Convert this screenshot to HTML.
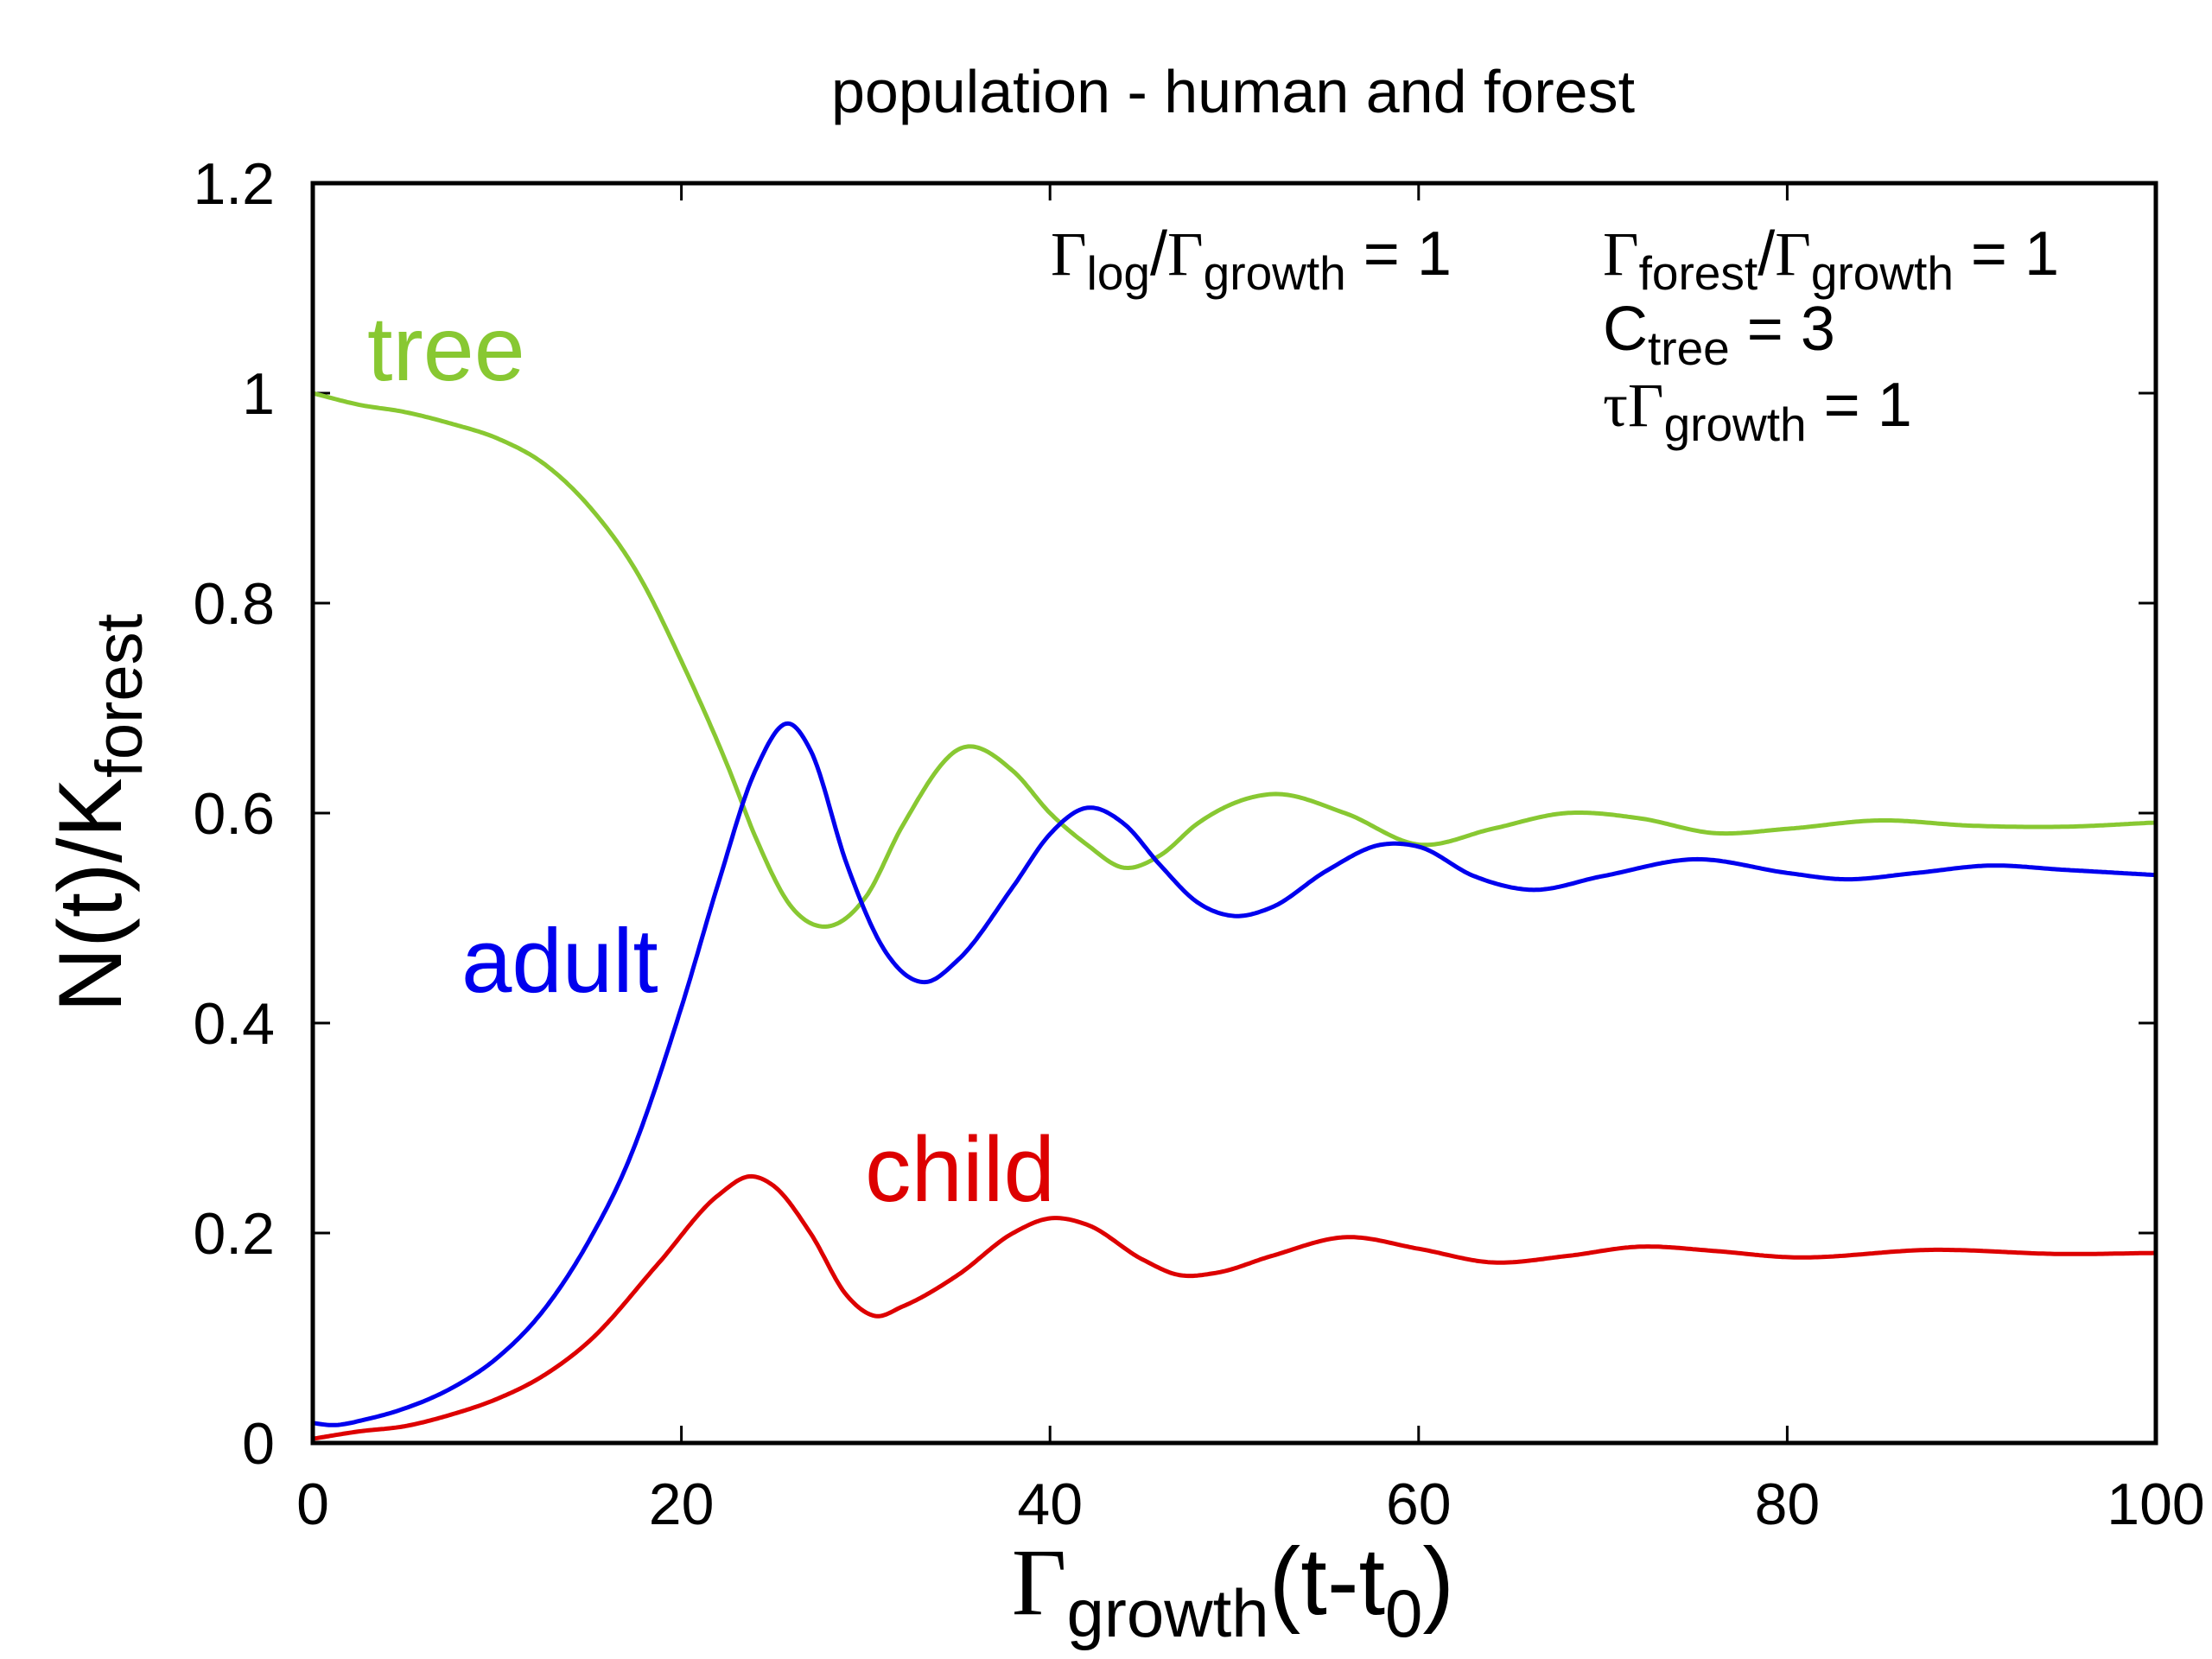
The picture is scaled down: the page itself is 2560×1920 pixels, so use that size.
<!DOCTYPE html>
<html><head><meta charset="utf-8"><style>
body{margin:0;background:#fff}
svg{display:block;font-family:"Liberation Sans",Arial,sans-serif}
</style></head><body>
<svg id="chart" width="2560" height="1920" viewBox="0 0 2560 1920" xmlns="http://www.w3.org/2000/svg">
<rect width="2560" height="1920" fill="#fff"/>
<text x="1427" y="130" font-size="70" text-anchor="middle">population - human and forest</text>
<g id="ticks"></g>
<g id="series"></g>
<rect x="362" y="212" width="2133" height="1458" fill="none" stroke="#000" stroke-width="5"/>
<text transform="translate(140,941) rotate(-90)" font-size="104" text-anchor="middle">N(t)/K<tspan font-size="76" dy="24">forest</tspan></text>
<text x="1427" y="1868" font-size="110" text-anchor="middle"><tspan font-family="Liberation Serif">Γ</tspan><tspan font-size="78" dy="26">growth</tspan><tspan dy="-26">(t-t</tspan><tspan font-size="78" dy="26">0</tspan><tspan dy="-26">)</tspan></text>
<text x="1216" y="318" font-size="72"><tspan font-family="Liberation Serif">Γ</tspan><tspan font-size="55" dy="17">log</tspan><tspan dy="-17">/</tspan><tspan font-family="Liberation Serif">Γ</tspan><tspan font-size="55" dy="17">growth</tspan><tspan dy="-17"> = 1</tspan></text>
<text x="1855" y="318" font-size="72"><tspan font-family="Liberation Serif">Γ</tspan><tspan font-size="55" dy="17">forest</tspan><tspan dy="-17">/</tspan><tspan font-family="Liberation Serif">Γ</tspan><tspan font-size="55" dy="17">growth</tspan><tspan dy="-17"> = 1</tspan></text>
<text x="1855" y="405" font-size="72">C<tspan font-size="55" dy="17">tree</tspan><tspan dy="-17"> = 3</tspan></text>
<text x="1855" y="493" font-size="72"><tspan font-family="Liberation Serif">τΓ</tspan><tspan font-size="55" dy="17">growth</tspan><tspan dy="-17"> = 1</tspan></text>
<text x="425" y="440" font-size="106" fill="#88c832">tree</text>
<text x="534" y="1148" font-size="105" fill="#0000ee">adult</text>
<text x="1001" y="1390" font-size="107" fill="#dd0000">child</text>
</svg>
<script>
const xTicks=[0,20,40,60,80,100];
const yTicks=[0,0.2,0.4,0.6,0.8,1,1.2];
const yTickLabels=["0","0.2","0.4","0.6","0.8","1","1.2"];
const treeT=[0,2.5,5,7.5,10,12.6,15.1,17.6,20.1,22.6,24,26,27.6,30,32,35.2,38,40,42,44,46,48,52,56,60,64,68,72,76,80,85,90,95,100];
const treeV=[1.0,0.989,0.982,0.971,0.957,0.932,0.89,0.829,0.741,0.641,0.578,0.51,0.492,0.52,0.588,0.662,0.64,0.6,0.57,0.548,0.56,0.59,0.618,0.6,0.57,0.585,0.6,0.595,0.581,0.585,0.593,0.588,0.587,0.591];
const adultT=[0,1,3,5,7.5,10,12.5,15,17,20,22,24,25.9,27,29,31,33.2,35,38,40,42,44,46,48,50,52,55,58,60,63,66,70,75,80,83,87,91,95,100];
const adultV=[0.019,0.017,0.023,0.033,0.052,0.081,0.126,0.193,0.263,0.415,0.533,0.64,0.685,0.66,0.55,0.47,0.439,0.46,0.53,0.58,0.605,0.59,0.55,0.515,0.502,0.51,0.545,0.57,0.568,0.54,0.527,0.54,0.556,0.543,0.537,0.543,0.55,0.546,0.541];
const childT=[0,2.5,5,7.5,10,12.5,15,18.75,22,23.8,25,27,29,30.5,32,35,38,40,42,45,47,49,52,56,60,64,68,72,76,80,88,95,100];
const childV=[0.004,0.011,0.016,0.027,0.042,0.064,0.097,0.171,0.236,0.254,0.245,0.2,0.14,0.121,0.13,0.16,0.2,0.214,0.208,0.175,0.16,0.162,0.178,0.196,0.185,0.172,0.178,0.187,0.183,0.177,0.184,0.18,0.181];
const NS="http://www.w3.org/2000/svg";
const X0=362,X1=2495,Y0=1670,Y1=212;
function xs(t){return X0+(X1-X0)*t/100;}
function ys(v){return Y0-(Y0-Y1)*v/1.2;}
const tg=document.getElementById('ticks');
function mk(tag,attrs,parent){const e=document.createElementNS(NS,tag);for(const k in attrs)e.setAttribute(k,attrs[k]);parent.appendChild(e);return e;}
xTicks.forEach(t=>{
  const x=xs(t);
  const l1=mk('line',{x1:x,x2:x,y1:Y0,y2:Y0-20,stroke:'#000','stroke-width':3},tg);
  
  
  const l2=mk('line',{x1:x,x2:x,y1:Y1,y2:Y1+20,stroke:'#000','stroke-width':3},tg);
  
  
  const tx=mk('text',{x:x,y:1764,'font-size':68,'text-anchor':'middle'},tg);
  tx.textContent=String(t);
  
  
});
yTicks.forEach((v,i)=>{
  const y=ys(v);
  const l1=mk('line',{x1:X0,x2:X0+20,y1:y,y2:y,stroke:'#000','stroke-width':3},tg);
  
  
  const l2=mk('line',{x1:X1,x2:X1-20,y1:y,y2:y,stroke:'#000','stroke-width':3},tg);
  
  
  const tx=mk('text',{x:318,y:y+24,'font-size':68,'text-anchor':'end'},tg);
  tx.textContent=yTickLabels[i];
  
  
});
// cubic Hermite with weighted-secant tangents
function hermite(T,V){
  const n=T.length,h=[],s=[],m=[];
  for(let i=0;i<n-1;i++){h.push(T[i+1]-T[i]);s.push((V[i+1]-V[i])/h[i]);}
  m[0]=s[0];m[n-1]=s[n-2];
  for(let i=1;i<n-1;i++)m[i]=(s[i-1]*h[i]+s[i]*h[i-1])/(h[i-1]+h[i]);
  const pts=[];
  for(let j=0;j<n-1;j++){
    const steps=Math.max(6,Math.ceil(h[j]*8));
    for(let k=0;k<steps;k++){
      const u=k/steps,u2=u*u,u3=u2*u;
      const v=(2*u3-3*u2+1)*V[j]+(u3-2*u2+u)*h[j]*m[j]+(-2*u3+3*u2)*V[j+1]+(u3-u2)*h[j]*m[j+1];
      pts.push([T[j]+u*h[j],v]);
    }
  }
  pts.push([T[n-1],V[n-1]]);
  return pts;
}
function pathD(T,V){
  return hermite(T,V).map((p,i)=>(i?'L':'M')+xs(p[0]).toFixed(1)+','+ys(p[1]).toFixed(1)).join(' ');
}
const sg=document.getElementById('series');
const pTree=mk('path',{d:pathD(treeT,treeV),fill:'none',stroke:'#88c832','stroke-width':5,'stroke-linejoin':'round'},sg);


const pAdult=mk('path',{d:pathD(adultT,adultV),fill:'none',stroke:'#0000ee','stroke-width':5,'stroke-linejoin':'round'},sg);


const pChild=mk('path',{d:pathD(childT,childV),fill:'none',stroke:'#dd0000','stroke-width':5,'stroke-linejoin':'round'},sg);


</script>
</body></html>
